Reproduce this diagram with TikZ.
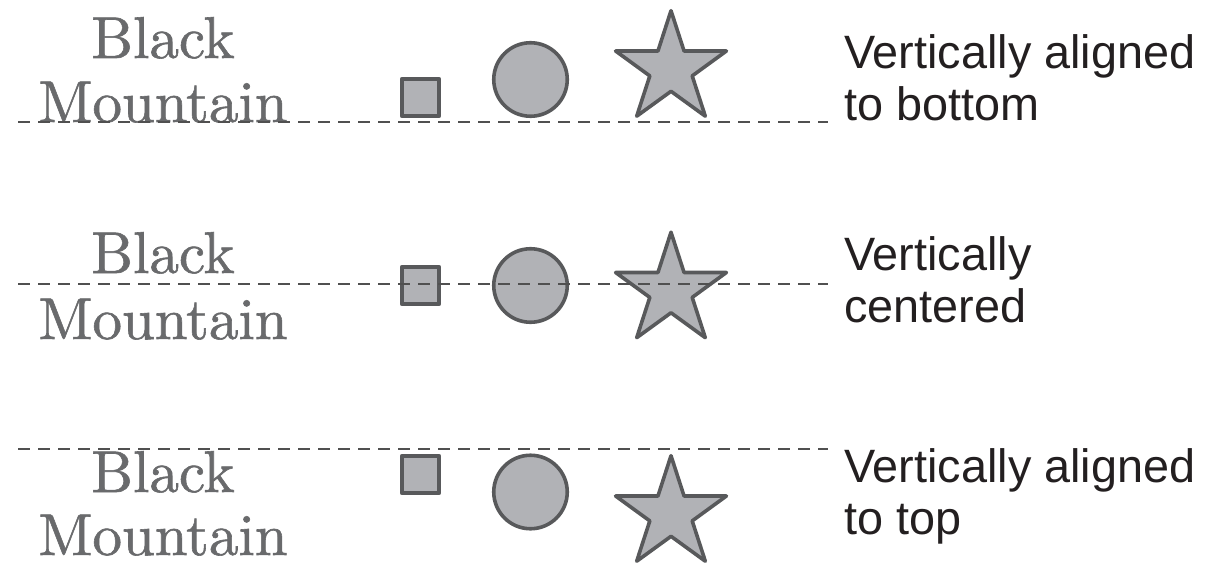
\documentclass[tikz,border=0pt]{standalone}
\usepackage{fontspec}
\setsansfont{Liberation Sans}
\newfontfamily\bmfont[FakeBold=1]{lmroman10-regular.otf}
\definecolor{shpfill}{RGB}{177,178,182}
\definecolor{shpline}{RGB}{88,89,91}
\definecolor{bmgray}{RGB}{105,106,108}
\definecolor{lblblack}{RGB}{35,31,32}
\definecolor{dashgray}{RGB}{80,80,80}
\begin{document}
\begin{tikzpicture}[x=1pt,y=-1pt]
\tikzset{
  shp/.style={draw=shpline, fill=shpfill, line width=3.6pt, line join=round},
  sqbox/.style={shp, rectangle, minimum size=37.5pt, inner sep=0pt, outer sep=0pt},
  rnd/.style={shp, circle, minimum size=73.5pt, inner sep=0pt, outer sep=0pt},
  guide/.style={draw=dashgray, line width=1.9pt, dash pattern=on 12pt off 8pt},
  bm/.style={text=bmgray, font=\bmfont\fontsize{59}{64}\selectfont, inner sep=0pt, anchor=base},
  lbl/.style={text=lblblack, font=\sffamily\fontsize{46.8}{52}\selectfont, inner sep=0pt, anchor=base west},
  bigstar/.pic={\draw[shp] (0,-58.3) -- (13.05,-18.0) -- (55.4,-18.0) -- (21.2,6.9) -- (34.3,47.2)
     -- (0,22.3) -- (-34.3,47.2) -- (-21.2,6.9) -- (-55.4,-18.0) -- (-13.05,-18.0) -- cycle;}
}
\useasboundingbox (0,0) rectangle (1226,564);

% ---- row 1: aligned to bottom
\node[bm] (b1) at (163,58) {Black};
\node[bm] (m1) at (163,122) {Mountain};
\node[sqbox] (sq1) at (420.5,97.5) {};
\node[rnd] (c1) at (530.5,79.5) {};
\pic at (671,69) {bigstar};
\node[lbl] (t1a) at (844,69) {Vertically aligned};
\node[lbl] (t1b) at (844,121) {to bottom};
\coordinate (l1s) at (18,122);
\coordinate (l1e) at (828,122);
\draw[guide] (l1s) -- (l1e);

% ---- row 2: centered
\node[bm] (b2) at (163,273) {Black};
\node[bm] (m2) at (163,339) {Mountain};
\node[sqbox] (sq2) at (420.5,285.5) {};
\node[rnd] (c2) at (530.5,285.5) {};
\pic at (671,290.5) {bigstar};
\node[lbl] (t2a) at (844,270) {Vertically};
\node[lbl] (t2b) at (844,322) {centered};
\coordinate (l2s) at (18,284);
\coordinate (l2e) at (828,284);
\draw[guide] (l2s) -- (l2e);

% ---- row 3: aligned to top
\node[bm] (b3) at (163,492) {Black};
\node[bm] (m3) at (163,555) {Mountain};
\node[sqbox] (sq3) at (420.5,474.5) {};
\node[rnd] (c3) at (530.5,492) {};
\pic at (671,514) {bigstar};
\node[lbl] (t3a) at (844,482) {Vertically aligned};
\node[lbl] (t3b) at (844,534) {to top};
\coordinate (l3s) at (18,449);
\coordinate (l3e) at (828,449);
\draw[guide] (l3s) -- (l3e);
\end{tikzpicture}
\end{document}
